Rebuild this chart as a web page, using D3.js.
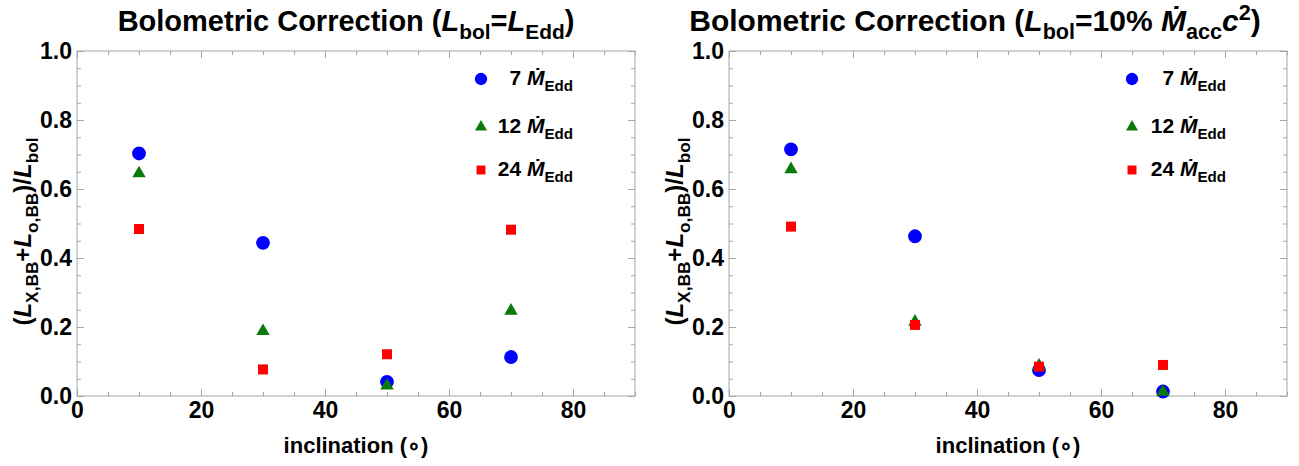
<!DOCTYPE html>
<html>
<head>
<meta charset="utf-8">
<script src="https://cdn.jsdelivr.net/npm/d3@7"></script>
<style>
  html, body { margin: 0; padding: 0; background: #fff; }
  svg { display: block; font-family: "Liberation Sans", Arial, sans-serif; font-weight: bold; }
</style>
</head>
<body>
<svg id="chart" width="1299" height="466"></svg>
<script>
// Inclination angles (degrees) at which the ratio was computed
const inclinations = [10, 30, 50, 70];

// Panel 1: L_bol = L_Edd
const eddRate7  = [0.703, 0.444, 0.041, 0.113];
const eddRate12 = [0.645, 0.188, 0.030, 0.247];
const eddRate24 = [0.484, 0.077, 0.121, 0.482];

// Panel 2: L_bol = 10% Mdot_acc c^2
const accRate7  = [0.715, 0.463, 0.075, 0.013];
const accRate12 = [0.657, 0.215, 0.088, 0.012];
const accRate24 = [0.491, 0.206, 0.085, 0.090];

const seriesLabels = ["7", "12", "24"];
const xMajorTicks = [0, 20, 40, 60, 80];
const yMajorTicks = [0, 0.2, 0.4, 0.6, 0.8, 1.0];

const svg = d3.select("#chart");

const styles = [
  { color: "#0000ff", symbol: d3.symbolCircle,   size: 150 },
  { color: "#0a7a0a", symbol: d3.symbolTriangle, size: 78 },
  { color: "#ff0000", symbol: d3.symbolSquare,   size: 100 }
];

// Writes a run of styled pieces (italic / subscript / superscript) into a text node
function richText(text, parts, fs) {
  let shift = 0;
  parts.forEach(p => {
    const target = p.sub ? 0.28 * fs : p.sup ? -0.38 * fs : 0;
    const ts = text.append("tspan").text(p.t)
      .attr("dy", target - shift)
      .attr("font-size", (p.sub || p.sup) ? fs * 0.72 : fs);
    if (p.italic) ts.attr("font-style", "italic");
    shift = target;
  });
}

function mdotParts(prefix, sub) {
  return [{ t: prefix }, { t: "Ṁ", italic: true }, { t: sub, sub: true }];
}

function drawPanel(cfg) {
  const x = d3.scaleLinear().domain([0, 90]).range([cfg.left, cfg.right]);
  const y = d3.scaleLinear().domain([0, 1]).range([cfg.bottom, cfg.top]);
  const g = svg.append("g");
  const frameColor = "#a6a6a6";

  const xMinor = d3.range(0, 91, 5).filter(v => v % 20 !== 0);
  const yMinor = d3.range(0, 21).map(v => v * 0.05).filter(v => Math.abs(v * 5 - Math.round(v * 5)) > 1e-6);

  function styleAxis(sel) {
    sel.select(".domain").remove();
    sel.selectAll(".tick line").attr("stroke", frameColor).attr("stroke-width", 1);
    sel.selectAll(".tick text").attr("fill", "#000").attr("font-size", 23)
      .attr("font-family", "'Liberation Sans', Arial, sans-serif").attr("font-weight", "bold");
  }

  // bottom axis with labels, plus minor ticks
  g.append("g").attr("transform", `translate(0,${cfg.bottom})`)
    .call(d3.axisBottom(x).tickValues(xMajorTicks).tickSize(-7).tickPadding(6).tickFormat(d3.format("d")))
    .call(styleAxis);
  g.append("g").attr("transform", `translate(0,${cfg.bottom})`)
    .call(d3.axisBottom(x).tickValues(xMinor).tickSize(-4).tickFormat(""))
    .call(styleAxis);
  // top axis ticks
  g.append("g").attr("transform", `translate(0,${cfg.top})`)
    .call(d3.axisTop(x).tickValues(xMajorTicks).tickSize(-7).tickFormat(""))
    .call(styleAxis);
  g.append("g").attr("transform", `translate(0,${cfg.top})`)
    .call(d3.axisTop(x).tickValues(xMinor).tickSize(-4).tickFormat(""))
    .call(styleAxis);
  // left axis with labels
  g.append("g").attr("transform", `translate(${cfg.left},0)`)
    .call(d3.axisLeft(y).tickValues(yMajorTicks).tickSize(-7).tickPadding(5).tickFormat(d3.format(".1f")))
    .call(styleAxis);
  g.append("g").attr("transform", `translate(${cfg.left},0)`)
    .call(d3.axisLeft(y).tickValues(yMinor).tickSize(-4).tickFormat(""))
    .call(styleAxis);
  // right axis ticks
  g.append("g").attr("transform", `translate(${cfg.right},0)`)
    .call(d3.axisRight(y).tickValues(yMajorTicks).tickSize(-7).tickFormat(""))
    .call(styleAxis);
  g.append("g").attr("transform", `translate(${cfg.right},0)`)
    .call(d3.axisRight(y).tickValues(yMinor).tickSize(-4).tickFormat(""))
    .call(styleAxis);

  // frame
  g.append("rect")
    .attr("x", cfg.left).attr("y", cfg.top)
    .attr("width", cfg.right - cfg.left).attr("height", cfg.bottom - cfg.top)
    .attr("fill", "none").attr("stroke", frameColor).attr("stroke-width", 1);

  // data points: blue, then green, then red on top
  cfg.series.forEach((vals, i) => {
    const st = styles[i];
    g.append("g").selectAll("path").data(inclinations.map((d, k) => [d, vals[k]]))
      .join("path")
      .attr("d", d3.symbol().type(st.symbol).size(st.size))
      .attr("transform", d => `translate(${x(d[0])},${y(d[1])})`)
      .attr("fill", st.color);
  });

  // legend
  seriesLabels.forEach((lab, i) => {
    const st = styles[i];
    const ly = cfg.legendY[i];
    g.append("path")
      .attr("d", d3.symbol().type(st.symbol).size(st.size * 0.8))
      .attr("transform", `translate(${cfg.legendSymX},${ly})`)
      .attr("fill", st.color);
    const t = g.append("text").attr("x", cfg.legendTextX).attr("y", ly + 6)
      .attr("text-anchor", "end").attr("font-size", 21);
    richText(t, mdotParts(lab + " ", "Edd"), 21);
  });

  // title
  const title = g.append("text")
    .attr("x", (cfg.left + cfg.right) / 2 + cfg.titleOffset).attr("y", 31)
    .attr("text-anchor", "middle").attr("font-size", cfg.titleSize);
  richText(title, cfg.titleParts, cfg.titleSize);

  // x axis title
  g.append("text")
    .attr("x", (cfg.left + cfg.right) / 2).attr("y", 453)
    .attr("text-anchor", "middle").attr("font-size", 22)
    .text("inclination (\u2218)");

  // y axis title
  const yt = g.append("text")
    .attr("transform", `translate(${cfg.left - 46},${(cfg.top + cfg.bottom) / 2 + 8}) rotate(-90)`)
    .attr("text-anchor", "middle").attr("font-size", 24);
  richText(yt, [
    { t: "(" }, { t: "L", italic: true }, { t: "X,BB", sub: true },
    { t: "+" }, { t: "L", italic: true }, { t: "o,BB", sub: true },
    { t: ")/" }, { t: "L", italic: true }, { t: "bol", sub: true }
  ], 24);
}

drawPanel({
  left: 77, right: 635, top: 51, bottom: 396,
  series: [eddRate7, eddRate12, eddRate24],
  legendSymX: 481, legendTextX: 573, legendY: [79, 127, 170],
  titleOffset: -10, titleSize: 29,
  titleParts: [
    { t: "Bolometric Correction (" }, { t: "L", italic: true }, { t: "bol", sub: true },
    { t: "=" }, { t: "L", italic: true }, { t: "Edd", sub: true }, { t: ")" }
  ]
});

drawPanel({
  left: 729, right: 1287, top: 51, bottom: 396,
  series: [accRate7, accRate12, accRate24],
  legendSymX: 1132, legendTextX: 1226, legendY: [79, 127, 170],
  titleOffset: -33, titleSize: 30,
  titleParts: [
    { t: "Bolometric Correction (" }, { t: "L", italic: true }, { t: "bol", sub: true },
    { t: "=10% " }, { t: "Ṁ", italic: true }, { t: "acc", sub: true },
    { t: "c", italic: true }, { t: "2", sup: true }, { t: ")" }
  ]
});
</script>
</body>
</html>
